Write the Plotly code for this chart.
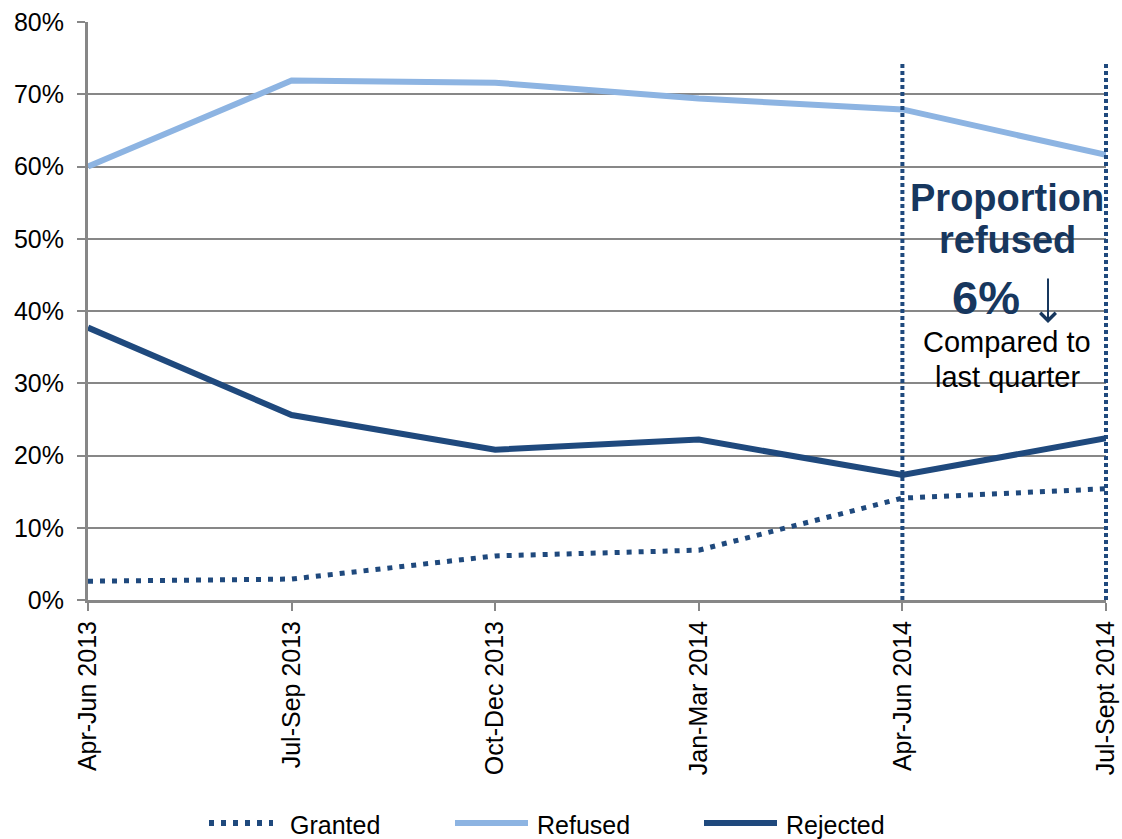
import plotly.graph_objects as go

# Quarterly outcome shares
quarters = ["Apr-Jun 2013", "Jul-Sep 2013", "Oct-Dec 2013", "Jan-Mar 2014", "Apr-Jun 2014", "Jul-Sept 2014"]
granted = [0.026, 0.029, 0.061, 0.069, 0.141, 0.154]
refused = [0.600, 0.719, 0.716, 0.694, 0.679, 0.616]
rejected = [0.377, 0.256, 0.208, 0.222, 0.173, 0.224]
y_ticks = [0.0, 0.1, 0.2, 0.3, 0.4, 0.5, 0.6, 0.7, 0.8]
y_tick_text = ["0%", "10%", "20%", "30%", "40%", "50%", "60%", "70%", "80%"]

FONT = "Liberation Sans, Arial, sans-serif"
DARK = "#1F497D"
LIGHT = "#8DB4E2"
NAVY_TEXT = "#17375E"
GRID = "#878787"

W, H = 1122, 839
ML, MR, MT, MB = 88, 16, 22, 239
PW, PH = W - ML - MR, H - MT - MB


def px(x):
    return (x - ML) / PW


def py(y):
    return (H - MB - y) / PH


xs = list(range(len(quarters)))
n_last = len(quarters) - 1

fig = go.Figure()
fig.add_trace(go.Scatter(x=xs, y=granted, mode="lines", name="Granted",
                         line=dict(color=DARK, width=5, dash="5px,7px")))
fig.add_trace(go.Scatter(x=xs, y=refused, mode="lines", name="Refused",
                         line=dict(color=LIGHT, width=6)))
fig.add_trace(go.Scatter(x=xs, y=rejected, mode="lines", name="Rejected",
                         line=dict(color=DARK, width=6)))

shapes = []
# dotted markers for the last two quarters (paper refs so the edge line is not clipped)
for q in (4, 5):
    shapes.append(dict(type="line", xref="paper", yref="paper", x0=q / n_last, x1=q / n_last,
                       y0=0, y1=py(64),
                       line=dict(color=DARK, width=4, dash="4px,3px"), layer="above"))

# legend drawn along the bottom
legend_items = [("Granted", DARK, "5px,7px", 209, 273, 288),
                ("Refused", LIGHT, "solid", 455, 528, 535),
                ("Rejected", DARK, "solid", 704, 777, 784)]
annotations = []
LEG_Y = 823
for name, color, dash, x0, x1, tx in legend_items:
    shapes.append(dict(type="line", xref="paper", yref="paper", x0=px(x0), x1=px(x1),
                       y0=py(LEG_Y), y1=py(LEG_Y), line=dict(color=color, width=6, dash=dash)))
    annotations.append(dict(text=name, xref="paper", yref="paper", x=px(tx), y=py(LEG_Y + 2),
                            xanchor="left", yanchor="middle", showarrow=False,
                            font=dict(family=FONT, size=25, color="black")))

# callout text
callout = [("<b>Proportion</b>", 1007, 198, 38, NAVY_TEXT),
           ("<b>refused</b>", 1007, 240, 38, NAVY_TEXT),
           ("<b>6%</b>", 986, 297, 47, NAVY_TEXT),
           ("Compared to", 1007, 342, 29, "black"),
           ("last quarter", 1007, 377, 29, "black")]
for text, x, y, size, color in callout:
    annotations.append(dict(text=text, xref="paper", yref="paper", x=px(x), y=py(y),
                            xanchor="center", yanchor="middle", showarrow=False,
                            font=dict(family=FONT, size=size, color=color)))

# downward arrow next to the percentage
annotations.append(dict(text="", xref="paper", yref="paper", x=px(1048), y=py(323),
                        ax=0, ay=-46, showarrow=True, arrowhead=4, arrowsize=1.5,
                        arrowwidth=2, arrowcolor=NAVY_TEXT))

fig.update_layout(
    width=W, height=H,
    margin=dict(l=ML, r=MR, t=MT, b=MB, pad=0, autoexpand=False),
    paper_bgcolor="white", plot_bgcolor="white",
    showlegend=False,
    font=dict(family=FONT, size=25, color="black"),
    shapes=shapes, annotations=annotations,
)
fig.update_xaxes(range=[0, n_last], tickvals=xs, ticktext=quarters, tickangle=-90,
                 automargin=False,
                 showgrid=False, zeroline=False, showline=True, linecolor=GRID, linewidth=3,
                 ticks="outside", ticklen=8, tickwidth=2, tickcolor=GRID,
                 tickfont=dict(family=FONT, size=25, color="black"))
fig.update_yaxes(range=[0, 0.8], tickvals=y_ticks, ticktext=y_tick_text,
                 automargin=False,
                 showgrid=True, gridcolor=GRID, gridwidth=2, zeroline=False,
                 showline=True, linecolor=GRID, linewidth=3,
                 ticks="outside", ticklen=8, tickwidth=2, tickcolor=GRID,
                 ticklabelstandoff=8,
                 tickfont=dict(family=FONT, size=25, color="black"))

fig.write_html("out.html")
